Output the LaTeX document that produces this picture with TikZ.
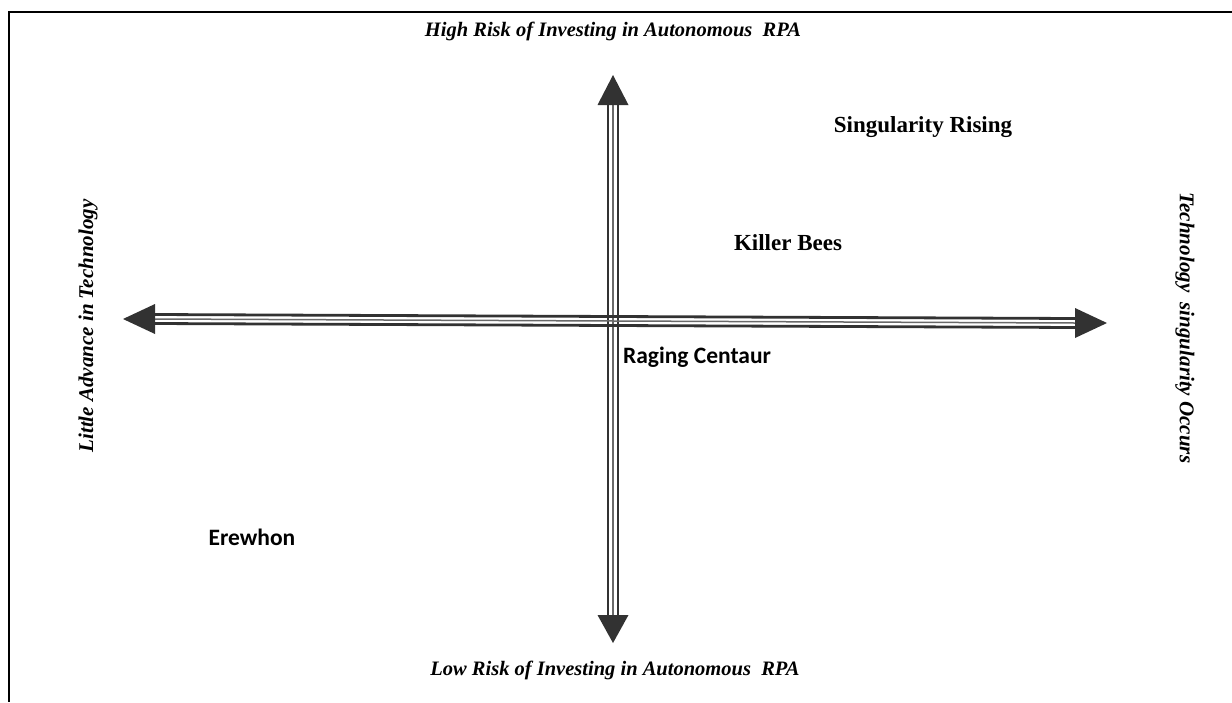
\documentclass[tikz,border=0pt]{standalone}
\usepackage{fontspec}
\setmainfont{Liberation Serif}
\newfontfamily\calib{Carlito}
\usepackage{tikz}
\definecolor{axisDark}{RGB}{50, 50, 50}
\definecolor{axisGrey}{RGB}{105, 105, 105}
\tikzset{
  shaftline/.style={axisDark, line width=2.8pt},
  shaftmid/.style={axisGrey, line width=1.5pt},
  headfill/.style={fill=axisDark},
  axislabel/.style={inner sep=0pt, font=\fontsize{20.5}{24}\selectfont\bfseries\itshape},
  sidelabel/.style={inner sep=0pt, font=\fontsize{21}{25}\selectfont\bfseries\itshape},
  scenario/.style={inner sep=0pt, font=\fontsize{23}{27}\selectfont\bfseries},
  scenariosans/.style={inner sep=0pt, font=\fontsize{23.5}{27}\selectfont\calib\bfseries}
}

\begin{document}
\begin{tikzpicture}[x=1pt, y=-1pt]
      \useasboundingbox (0,0) rectangle (1232,702);
      \draw[line width=2.2pt] (1232,12) -- (9,12) -- (9,702);

      % axis ends
      \coordinate (up) at (613,75);
      \coordinate (down) at (613,643);
      \coordinate (west) at (123,319);
      \coordinate (east) at (1107,323);

      % vertical shaft
      \draw[shaftline] ([xshift=-5pt]up) ++(0,30) -- ([xshift=-5pt,yshift=28pt]down);
      \draw[shaftline] ([xshift=5pt]up) ++(0,30) -- ([xshift=5pt,yshift=28pt]down);
      \draw[shaftmid] (up) ++(0,30) -- ([yshift=28pt]down);

      % horizontal shaft
      \draw[shaftline] ([yshift=4.5pt]west) ++(32,0) -- ([xshift=-32pt,yshift=4.5pt]east);
      \draw[shaftline] ([yshift=-4.5pt]west) ++(32,0) -- ([xshift=-32pt,yshift=-4.5pt]east);
      \draw[shaftmid] (west) ++(32,0) -- ([xshift=-32pt]east);

      % heads
      \fill[headfill] (up) -- ++(-15.5,30) -- ++(31,0) -- cycle;
      \fill[headfill] (down) -- ++(-15.5,-28) -- ++(31,0) -- cycle;
      \fill[headfill] (west) -- ++(32,-15) -- ++(0,30) -- cycle;
      \fill[headfill] (east) -- ++(-32,-15) -- ++(0,30) -- cycle;

      % axis labels
      \node[axislabel] (high) at (613,31) {High Risk of Investing in Autonomous\ \ RPA};
      \node[axislabel] (low) at (615,670) {Low Risk of Investing in Autonomous\ \ RPA};
      \node[sidelabel, rotate=90] (little) at (88,326) {Little Advance in Technology};
      \node[sidelabel, rotate=-90] (occurs) at (1185,328) {Technology\ \ singularity Occurs};

      % scenarios
      \node[scenario] (rising) at (923,127) {Singularity Rising};
      \node[scenario] (bees) at (788,243) {Killer Bees};
      \node[scenariosans] (centaur) at (697,357) {Raging Centaur};
      \node[scenariosans] (erewhon) at (252,537) {Erewhon};
    \end{tikzpicture}
\end{document}
